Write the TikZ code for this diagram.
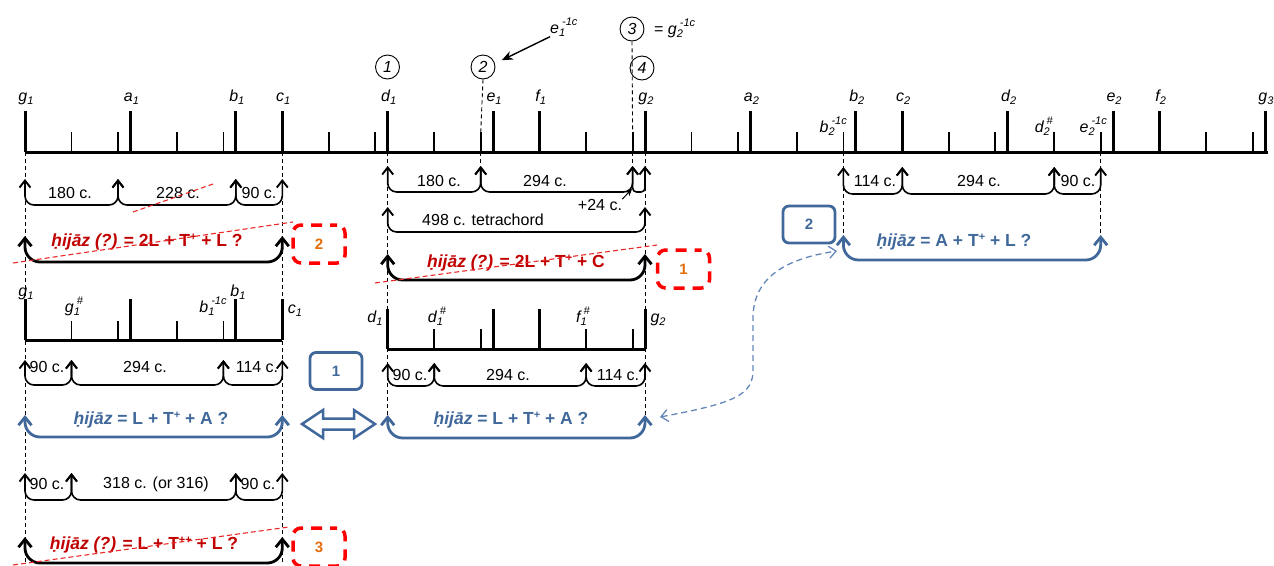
\documentclass[tikz,border=0pt]{standalone}
\usepackage{fontspec}
\setmainfont{Liberation Sans}
\usetikzlibrary{arrows.meta}
\definecolor{dred}{RGB}{192,0,0}
\definecolor{sred}{RGB}{235,40,40}
\definecolor{bred}{RGB}{255,0,0}
\definecolor{orng}{RGB}{228,108,10}
\definecolor{blu}{RGB}{64,104,154}
\definecolor{bluD}{RGB}{100,135,185}
\newcommand\lsub[1]{\raisebox{-3.5pt}{\fontsize{11}{11}\selectfont #1}}
\newcommand\lsup[1]{\raisebox{7.5pt}{\fontsize{11}{11}\selectfont #1}}
\newcommand\lss[3]{#1\rlap{\lsub{#2}}\kern3pt\lsup{#3}}
\newcommand\psup[1]{\raisebox{6.5pt}{\fontsize{11}{11}\selectfont #1}}
\newcommand\hd{\leavevmode\ooalign{h\cr\hidewidth\raisebox{-4.5pt}{.}\hidewidth\cr}}
\newcommand\hz{\textit{ḥij\=az}}
\newcommand\tips[3]{\foreach \xx [count=\i] in {#3} {\coordinate (#1\i) at (\xx,#2);}}
\newcommand\bk[4][brk]{\draw[#1] (#2) -- ++(0,#4) -| (#3);}
\begin{document}
\begin{tikzpicture}[x=1pt,y=-1pt,
  lab/.style={font=\itshape\fontsize{16}{18}\selectfont, inner sep=0pt, anchor=base},
  txt/.style={font=\fontsize{16}{18}\selectfont, inner sep=0pt},
  htxt/.style={font=\bfseries\fontsize{17.5}{20}\selectfont, inner sep=0pt},
  brk/.style={line width=1.6, rounded corners=9, {Straight Barb[length=7pt,width=11pt,line width=1.9]}-{Straight Barb[length=7pt,width=11pt,line width=1.9]}},
  brkS/.style={brk, rounded corners=4},
  brkB/.style={line width=2.8, rounded corners=15, {Straight Barb[length=8pt,width=13pt]}-{Straight Barb[length=8pt,width=13pt]}},
  brkU/.style={brkB, draw=blu},
  guide/.style={dash pattern=on 4pt off 3pt, line width=0.9},
  rstrike/.style={draw=sred, dash pattern=on 5pt off 3pt, line width=1.1},
  circ/.style={circle, draw, line width=0.9, minimum size=24pt, inner sep=0pt, font=\itshape\fontsize{16}{18}\selectfont},
  rbox/.style={draw=bred, line width=3.5, dash pattern=on 11pt off 8pt, dash phase=4pt, rounded corners=8, minimum width=52pt, minimum height=38pt, text=orng, font=\bfseries\fontsize{15}{15}\selectfont},
  bbox/.style={draw=blu, line width=2.8, rounded corners=6, minimum width=52pt, minimum height=37pt, text=blu, font=\bfseries\fontsize{15}{15}\selectfont},
  major/.style={line width=3},
  minor/.style={line width=1.8}
]
\useasboundingbox (0,0) rectangle (1274,565);

% circles above the axis
\node[circ] (C1) at (387.5,67) {1};
\node[circ] (C2) at (483,67) {2};
\node[circ] (C3) at (632,29) {3};
\node[circ] (C4) at (642,68) {4};
\node[lab, anchor=base west] (E1m) at (550,33) {\lss{e}{1}{-1c}};
\node[lab, anchor=base west] (G2m) at (654,34) {{\upshape =} \lss{g}{2}{-1c}};
\draw[line width=1.4, -{Stealth[length=11pt,width=9pt]}] (E1m.south west) -- ([xshift=10pt,yshift=-2pt]C2.north east);
\coordinate (C2d) at (480.7,133);
\coordinate (C3d) at (632.6,133);
\draw[guide] (C2.south) -- (C2d);
\draw[guide] (C3.south) -- (C3d);

% dashed guides below the axis
\foreach \n/\x/\a/\b in {gA/25/152/565, gB/282.3/152/565, gC/387.7/152/415, gD/645/152/415, gE/843.4/152/235, gF/1100.7/152/235, gG/480.7/152/166, gH/632.6/152/166} {
  \coordinate (\n-t) at (\x,\a); \coordinate (\n-b) at (\x,\b);
  \draw[guide] (\n-t) -- (\n-b);
}

% main axis
\draw[line width=3] (25,152) -- (1268,152);
\foreach \c in {0,204,408,498,702,906,996,1200,1404,1608,1698,1902,2106,2196,2400}
  \draw[major] ({25+0.51667*\c},152) -- ++(0,-41);
\foreach \c in {90,180,294,384,588,678,792,882,1086,1176,1290,1380,1494,1584,1788,1878,1992,2082,2286,2376}
  \draw[minor] ({25+0.51667*\c},152) -- ++(0,-20);
\foreach \c/\n/\s in {0/g/1,204/a/1,408/b/1,498/c/1,702/d/1,906/e/1,996/f/1,1200/g/2,1404/a/2,1608/b/2,1698/c/2,1902/d/2,2106/e/2,2196/f/2,2400/g/3}
  \node[lab] (L\n\s) at ({25+0.51667*\c+1},101) {\n\lsub{\s}};
\node[lab, anchor=base east] (Lb2m) at (847,132) {\lss{b}{2}{-1c}};
\node[lab, anchor=base east] (Ld2s) at (1053,132) {\lss{d}{2}{\#}};
\node[lab, anchor=base east] (Le2m) at (1107,132) {\lss{e}{2}{-1c}};

% lower left scale
\draw[line width=3] (25,340) -- (282.3,340);
\foreach \c in {0,204,408,498}
  \draw[major] ({25+0.51667*\c},340) -- ++(0,-41);
\foreach \c in {90,180,294,384}
  \draw[minor] ({25+0.51667*\c},340) -- ++(0,-19);
\node[lab] (Kg1) at (26,296) {g\lsub{1}};
\node[lab] (Kg1s) at (74,312) {\lss{g}{1}{\#}};
\node[lab] (Kb1m) at (213,312) {\lss{b}{1}{-1c}};
\node[lab] (Kb1) at (238,296) {b\lsub{1}};
\node[lab] (Kc1) at (295,313) {c\lsub{1}};

% lower middle scale
\draw[line width=3] (387.7,349) -- (645,349);
\foreach \c in {702,906,996,1200}
  \draw[major] ({25+0.51667*\c},349) -- ++(0,-40);
\foreach \c in {792,882,1086,1176}
  \draw[minor] ({25+0.51667*\c},349) -- ++(0,-20);
\node[lab] (Md1) at (375,322) {d\lsub{1}};
\node[lab] (Md1s) at (437,322) {\lss{d}{1}{\#}};
\node[lab] (Mf1s) at (583,322) {\lss{f}{1}{\#}};
\node[lab] (Mg2) at (658,322) {g\lsub{2}};

% bracket tips
\tips{A}{179}{25,118,235.8,282.3}
\tips{B}{166}{387.7,480.7,632.6,645}
\tips{Cc}{207}{387.7,645}
\tips{D}{236}{25,282.3}
\tips{E}{254}{387.7,645}
\tips{F}{167}{843.4,902.3,1054.2,1100.7}
\tips{G}{235}{843.4,1100.7}
\tips{H}{360}{25,71.5,223.4,282.3}
\tips{I}{363}{387.7,434.2,586.1,645}
\tips{J}{415}{25,282.3}
\tips{K}{415}{387.7,645}
\tips{Lr}{473}{25,71.5,235.8,282.3}
\tips{M}{537}{25,282.3}

\bk{A1}{A2}{26} \bk{A2}{A3}{26} \bk{A3}{A4}{26}
\bk{B1}{B2}{26} \bk{B2}{B3}{26} \bk[brkS]{B3}{B4}{26}
\bk{Cc1}{Cc2}{25}
\bk[brkB]{D1}{D2}{26}
\bk[brkB]{E1}{E2}{26}
\bk{F1}{F2}{27} \bk{F2}{F3}{27} \bk{F3}{F4}{27}
\bk[brkU]{G1}{G2}{25}
\bk{H1}{H2}{25} \bk{H2}{H3}{25} \bk{H3}{H4}{25}
\bk{I1}{I2}{23} \bk{I2}{I3}{23} \bk{I3}{I4}{23}
\bk[brkU]{J1}{J2}{22}
\bk[brkU]{K1}{K2}{23}
\bk{Lr1}{Lr2}{27} \bk{Lr2}{Lr3}{27} \bk{Lr3}{Lr4}{27}
\bk[brkB]{M1}{M2}{26}

% interval texts
\node[txt] (tA1) at (70,193) {180 c.};
\node[txt] (tA2) at (178,193) {228 c.};
\node[txt] (tA3) at (259,193) {90 c.};
\node[txt] (tB1) at (439,181) {180 c.};
\node[txt] (tB2) at (545,181) {294 c.};
\node[txt] (t24) at (600,205) {+24 c.};
\coordinate (p24) at (632,189);
\draw[line width=1, -{Stealth[length=7pt,width=6pt]}] (t24.north east) -- (p24);
\node[txt] (tC) at (483,220) {498 c. tetrachord};
\node[txt] (tF1) at (875,181) {114 c.};
\node[txt] (tF2) at (979,181) {294 c.};
\node[txt] (tF3) at (1078,181) {90 c.};
\node[txt] (tH1) at (47,367) {90 c.};
\node[txt] (tH2) at (145,367) {294 c.};
\node[txt] (tH3) at (257,367) {114 c.};
\node[txt] (tI1) at (410,375) {90 c.};
\node[txt] (tI2) at (508,375) {294 c.};
\node[txt] (tI3) at (618,375) {114 c.};
\node[txt] (tL1) at (47,484) {90 c.};
\node[txt] (tL2) at (156,484) {318 c. (or 316)};
\node[txt] (tL3) at (258,484) {90 c.};

% hijaz formulas
\node[htxt, text=dred] (hD) at (147,242) {\hz\ \textit{(?)} = 2L + T\psup{+} + L ?};
\node[htxt, text=dred] (hE) at (516,263) {\hz\ \textit{(?)} = 2L + T\psup{+} + C};
\node[htxt, text=dred] (hM) at (144,545) {\hz\ \textit{(?)} = L + T\psup{++} + L ?};
\node[htxt, text=blu] (hG) at (954,242) {\hz\ = A + T\psup{+} + L ?};
\node[htxt, text=blu] (hJ) at (151,420) {\hz\ = L + T\psup{+} + A ?};
\node[htxt, text=blu] (hK) at (511,420) {\hz\ = L + T\psup{+} + A ?};

% red strike lines
\draw[rstrike] (133,212) -- (213,184);
\draw[rstrike] (13,263) -- (293,222);
\draw[rstrike] (375,283) -- (657,245);
\draw[rstrike] (13,565) -- (289,527);

% boxes
\node[rbox] (R2) at (319,244) {2};
\node[rbox] (R1) at (683.5,269) {1};
\node[rbox] (R3) at (319,547) {3};
\node[bbox] (B1x) at (336,371) {1};
\node[bbox] (B2x) at (809,224.5) {2};

% double arrow
\draw[blu, line width=2.5, line join=miter] (302,424) -- (323,410) -- (323,418.5) -- (354,418.5) -- (354,410) -- (375,424) -- (354,438) -- (354,429.5) -- (323,429.5) -- (323,438) -- cycle;

% dashed blue connector
\coordinate (bdL) at (660,417);
\coordinate (bdR) at (837,251);
\draw[bluD, line width=1.3, dash pattern=on 6pt off 4pt, {Straight Barb[length=7pt,width=12pt]}-{Straight Barb[length=7pt,width=12pt]}]
  (bdL) .. controls (735,403) and (753,395) .. (753,370) -- (753,318) .. controls (753,275) and (790,258) .. (bdR);
\end{tikzpicture}
\end{document}
